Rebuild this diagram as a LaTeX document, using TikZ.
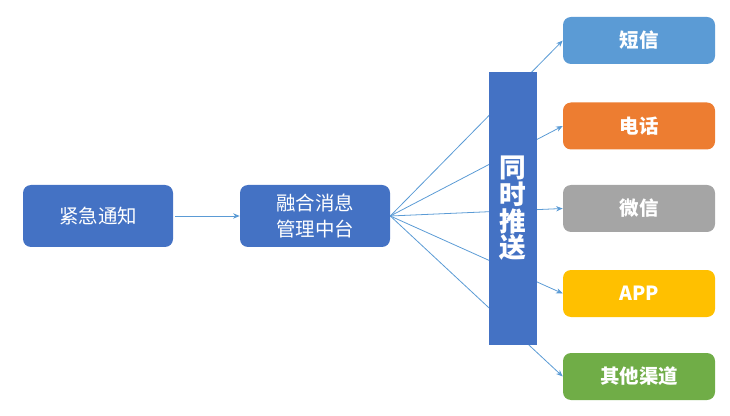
\documentclass[tikz,border=0pt]{standalone}
\usepackage{fontspec}
\setmainfont{Noto Sans CJK SC}
\usetikzlibrary{arrows.meta}

\definecolor{darkblue}{RGB}{68,114,196}
\definecolor{lightblue}{RGB}{91,155,213}
\definecolor{orange}{RGB}{237,125,49}
\definecolor{grey}{RGB}{165,165,165}
\definecolor{gold}{RGB}{255,192,0}
\definecolor{green}{RGB}{112,173,71}

\tikzset{
  mainbox/.style={fill=darkblue, rounded corners=6pt, minimum width=112.5pt, minimum height=46.5pt, inner sep=0.75pt, align=center, text=white, font=\fontsize{14.6}{19}\selectfont},
  chanbox/.style={rounded corners=6pt, minimum width=114pt, minimum height=35.25pt, inner sep=0.75pt, text=white, font=\fontsize{14.6}{17}\selectfont\bfseries},
  push/.style={draw=lightblue, line width=0.6pt, -{Stealth[length=5pt,width=4pt]}}
}

\begin{document}
\begin{tikzpicture}[x=0.75pt,y=0.75pt,yscale=-1,xscale=1]
\useasboundingbox (0,0) rectangle (730,416);

%Shape: Rounded Rectangle [id:alert]
\node [mainbox] (alert) at (98,216) {紧急通知};
%Shape: Rounded Rectangle [id:hub]
\node [mainbox] (hub) at (315,216) {融合消息\\管理中台};

%Shape: Rounded Rectangle [id:sms]
\node [chanbox, fill=lightblue] (sms) at (639,40.5) {短信};
%Shape: Rounded Rectangle [id:phone]
\node [chanbox, fill=orange] (phone) at (639,126) {电话};
%Shape: Rounded Rectangle [id:wechat]
\node [chanbox, fill=grey] (wechat) at (639,208.5) {微信};
%Shape: Rounded Rectangle [id:app]
\node [chanbox, fill=gold] (app) at (639,293.5) {APP};
%Shape: Rounded Rectangle [id:other]
\node [chanbox, fill=green] (other) at (639,376.5) {其他渠道};

%Straight Lines [id:alert-hub]
\draw [push] (alert.east) ++(2,0) -- (hub.west);
%Straight Lines [id:hub-channels]
\draw [push] (hub.east) -- (sms.west);
\draw [push] (hub.east) -- (phone.west);
\draw [push] (hub.east) -- (wechat.west);
\draw [push] (hub.east) -- (app.west);
\draw [push] (hub.east) -- (other.west);

%Shape: Rectangle [id:bar]
\node [fill=darkblue, minimum width=36pt, minimum height=204.75pt, inner sep=0.75pt, text=white, align=center, font=\fontsize{20}{20}\selectfont\bfseries] (bar) at (513,208.5) {同\\时\\推\\送};

\end{tikzpicture}
\end{document}
